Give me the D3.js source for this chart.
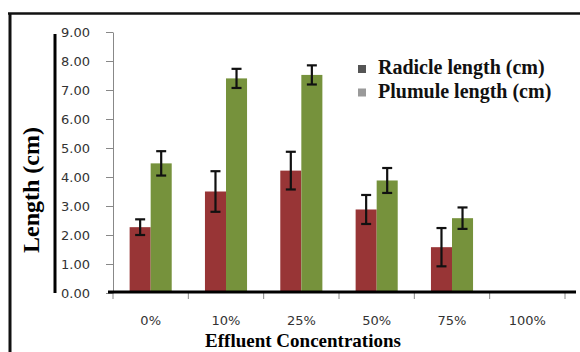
<!DOCTYPE html>
<html>
<head>
<meta charset="utf-8">
<script src="https://cdn.jsdelivr.net/npm/d3@7"></script>
<style>
  body { margin: 0; background: #fff; }
  svg { display: block; }
</style>
</head>
<body>
<svg width="580" height="352"></svg>
<script>
var categories = ["0%", "10%", "25%", "50%", "75%", "100%"],
  radicle = [2.27, 3.50, 4.22, 2.88, 1.58, 0],
  radicleErr = [0.27, 0.70, 0.65, 0.50, 0.66, 0],
  plumule = [4.47, 7.40, 7.52, 3.88, 2.58, 0],
  plumuleErr = [0.42, 0.33, 0.33, 0.43, 0.37, 0],
  yTicks = [0, 1, 2, 3, 4, 5, 6, 7, 8, 9],
  seriesNames = ["Radicle length (cm)", "Plumule length (cm)"];

var svg = d3.select("svg"),
  serif = "'Liberation Serif', 'Times New Roman', serif",
  sans = "'DejaVu Sans', sans-serif",
  colors = ["#983536", "#76923c"],
  legendColors = ["#555555", "#9a9a9a"];

// outer frame
svg.append("line").attr("x1", 8).attr("x2", 580).attr("y1", 13.5).attr("y2", 13.5)
  .attr("stroke", "#111").attr("stroke-width", 2.5);
svg.append("line").attr("x1", 10).attr("x2", 10).attr("y1", 13).attr("y2", 352)
  .attr("stroke", "#111").attr("stroke-width", 3);

var x = d3.scaleBand().domain(categories).range([113, 565]).paddingInner(0).paddingOuter(0),
  y = d3.scaleLinear().domain([0, 9]).range([293, 32]),
  xs = d3.scaleBand().domain([0, 1]).range([0, x.bandwidth()]).paddingInner(0).paddingOuter(0.79);

// gray axis + ticks
var yAxis = svg.append("g").attr("transform", "translate(113,0)")
  .call(d3.axisLeft(y).tickValues(yTicks).tickFormat(d3.format(".2f")).tickSize(7).tickSizeOuter(0));
yAxis.select(".domain").attr("stroke", "#888");
yAxis.selectAll(".tick line").attr("stroke", "#888");
yAxis.selectAll(".tick text").attr("x", -23).attr("font-family", sans)
  .attr("font-size", 13).attr("fill", "#333");

var xAxis = svg.append("g").attr("transform", "translate(0,293)")
  .call(d3.axisBottom(x).tickSize(0).tickPadding(23));
xAxis.select(".domain").remove();
xAxis.selectAll(".tick text").attr("font-family", sans).attr("font-size", 13).attr("fill", "#333");
svg.append("g").selectAll("line").data(categories.concat([""])).join("line")
  .attr("x1", function(d, i) { return 113 + i * x.step(); })
  .attr("x2", function(d, i) { return 113 + i * x.step(); })
  .attr("y1", 293).attr("y2", 299).attr("stroke", "#888");

// bars
var groups = svg.append("g").selectAll("g").data(categories).join("g")
  .attr("transform", function(d) { return "translate(" + x(d) + ",0)"; });
[radicle, plumule].forEach(function(vals, s) {
  var errs = s === 0 ? radicleErr : plumuleErr;
  groups.append("rect")
    .attr("x", xs(s)).attr("width", xs.bandwidth())
    .attr("y", function(d, i) { return y(vals[i]); })
    .attr("height", function(d, i) { return y(0) - y(vals[i]); })
    .attr("fill", colors[s]);
  var eb = groups.filter(function(d, i) { return vals[i] > 0; }).append("g")
    .attr("stroke", "#111").attr("stroke-width", 2.2);
  var cx = xs(s) + xs.bandwidth() / 2;
  eb.append("line").attr("x1", cx).attr("x2", cx)
    .attr("y1", function(d) { var i = categories.indexOf(d); return y(vals[i] + errs[i]); })
    .attr("y2", function(d) { var i = categories.indexOf(d); return y(vals[i] - errs[i]); });
  [1, -1].forEach(function(sg) {
    eb.append("line").attr("x1", cx - 5).attr("x2", cx + 5)
      .attr("y1", function(d) { var i = categories.indexOf(d); return y(vals[i] + sg * errs[i]); })
      .attr("y2", function(d) { var i = categories.indexOf(d); return y(vals[i] + sg * errs[i]); });
  });
});

// thick black axis lines
svg.append("line").attr("x1", 108).attr("x2", 576).attr("y1", 292).attr("y2", 292)
  .attr("stroke", "#000").attr("stroke-width", 3);
svg.append("line").attr("x1", 55).attr("x2", 55).attr("y1", 34).attr("y2", 293)
  .attr("stroke", "#000").attr("stroke-width", 3);

// legend
var legend = svg.append("g").selectAll("g").data(seriesNames).join("g")
  .attr("transform", function(d, i) { return "translate(358," + (74 + i * 23.5) + ")"; });
legend.append("rect").attr("x", 0).attr("y", -9).attr("width", 8).attr("height", 8)
  .attr("fill", function(d, i) { return legendColors[i]; });
legend.append("text").attr("x", 20).attr("y", 0).text(function(d) { return d; })
  .attr("font-family", serif).attr("font-weight", "bold").attr("font-size", 20).attr("fill", "#111");

// titles
svg.append("text").attr("x", 303).attr("y", 347).attr("text-anchor", "middle")
  .attr("font-family", serif).attr("font-weight", "bold").attr("font-size", 19)
  .text("Effluent Concentrations");
svg.append("text").attr("transform", "translate(39,190) rotate(-90)").attr("text-anchor", "middle")
  .attr("font-family", serif).attr("font-weight", "bold").attr("font-size", 24)
  .text("Length (cm)");
</script>
</body>
</html>
